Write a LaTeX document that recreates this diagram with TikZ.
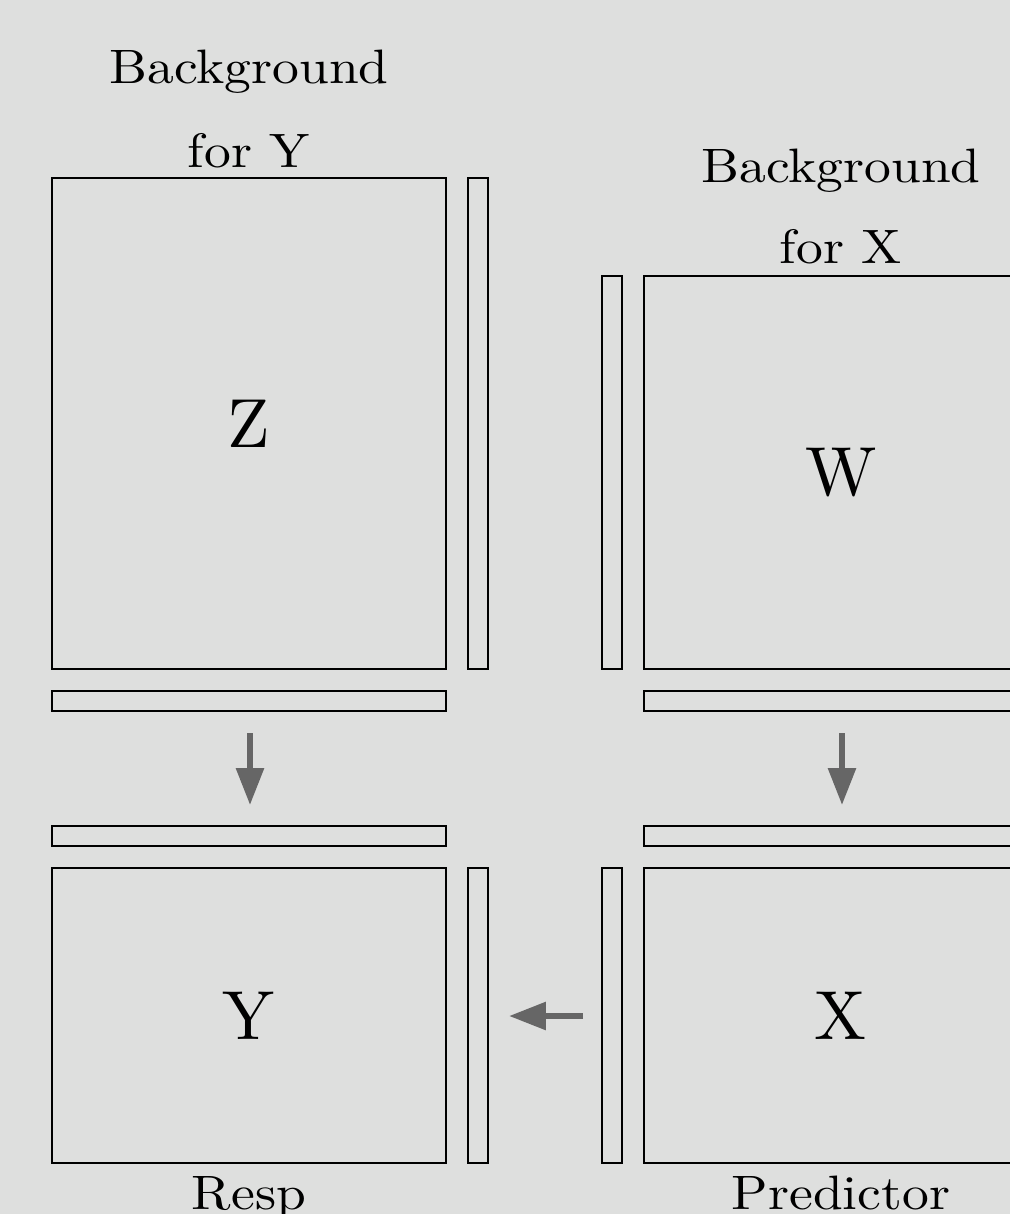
\documentclass[tikz,border=0pt]{standalone}
\usetikzlibrary{arrows.meta,fit}
\definecolor{canvas}{RGB}{222,223,222}
\definecolor{flowgray}{RGB}{102,102,102}
\begin{document}
\begin{tikzpicture}[x=0.02cm,y=-0.02cm,
  panel/.style={draw=black, line width=1.4pt, inner sep=0pt, outer sep=0pt},
  bigletter/.style={font=\fontsize{10}{12}\selectfont, scale=3.95, inner sep=0pt},
  caption/.style={font=\fontsize{10}{12}\selectfont, xscale=3.05, yscale=2.75, inner sep=0pt, anchor=base},
  flow/.style={draw=flowgray, line width=3.4pt, -{Triangle[length=0.74cm,width=0.54cm]}}]
  \useasboundingbox (0,0) rectangle (1010,1214);
  \fill[canvas] (0,0) rectangle (1010,1214);
  \clip (0,0) rectangle (1010,1214);

  % upper-left block: Z with its margins
  \node[panel, fit={(52,178)(446,669)}] (Zbox) {};
  \node[panel, fit={(468,178)(488,669)}] (Zside) {};
  \node[panel, fit={(52,691)(446,711)}] (Zfoot) {};
  \node[bigletter] (Zlab) at (Zbox.center) {Z};

  % upper-right block: W with its margins
  \node[panel, fit={(644,276)(1038,669)}] (Wbox) {};
  \node[panel, fit={(602,276)(622,669)}] (Wside) {};
  \node[panel, fit={(644,691)(1038,711)}] (Wfoot) {};
  \node[bigletter] (Wlab) at (Wbox.center) {W};

  % lower-left block: Y
  \node[panel, fit={(52,826)(446,846)}] (Yhead) {};
  \node[panel, fit={(52,868)(446,1163)}] (Ybox) {};
  \node[panel, fit={(468,868)(488,1163)}] (Yside) {};
  \node[bigletter] (Ylab) at (Ybox.center) {Y};

  % lower-right block: X
  \node[panel, fit={(644,826)(1038,846)}] (Xhead) {};
  \node[panel, fit={(644,868)(1038,1163)}] (Xbox) {};
  \node[panel, fit={(602,868)(622,1163)}] (Xside) {};
  \node[bigletter] (Xlab) at (Xbox.center) {X};

  % captions
  \node[caption] (bgY1) at (249,83) {Background};
  \node[caption] (bgY2) at (249,167) {for Y};
  \node[caption] (bgX1) at (841,182) {Background};
  \node[caption] (bgX2) at (841,263) {for X};
  \node[caption] (resp) at (249,1209) {Resp};
  \node[caption] (pred) at (841,1209) {Predictor};

  % flow arrows
  \coordinate (zdownA) at (250,733);
  \coordinate (zdownB) at (250,805);
  \coordinate (wdownA) at (842,733);
  \coordinate (wdownB) at (842,805);
  \coordinate (xleftA) at (583,1016);
  \coordinate (xleftB) at (509,1016);
  \draw[flow] (zdownA) -- (zdownB);
  \draw[flow] (wdownA) -- (wdownB);
  \draw[flow] (xleftA) -- (xleftB);
\end{tikzpicture}
\end{document}
